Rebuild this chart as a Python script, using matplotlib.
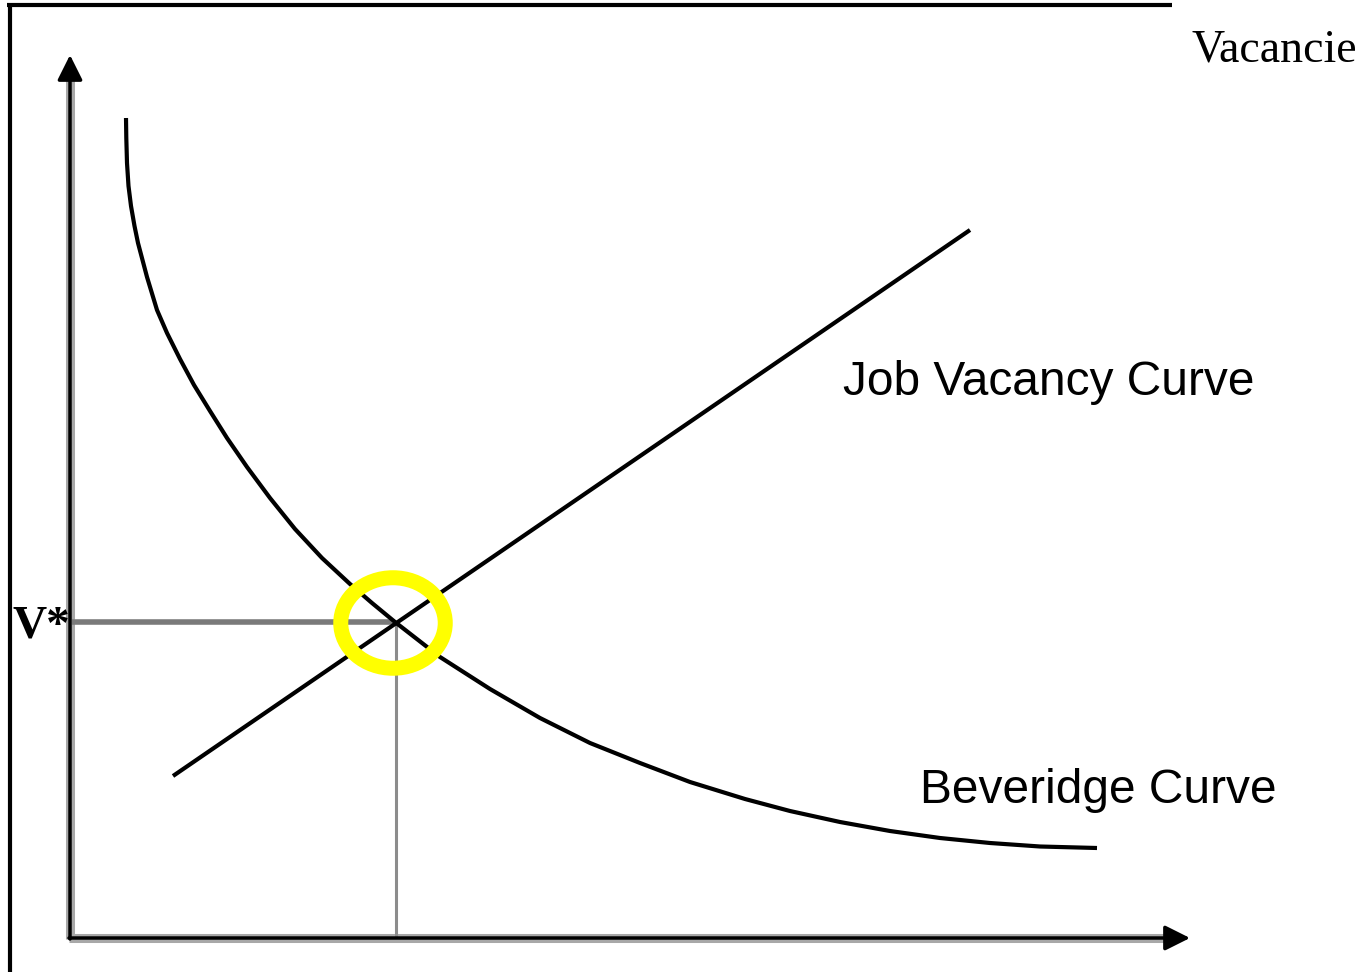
import numpy as np
import matplotlib
matplotlib.use('Agg')
import matplotlib.pyplot as plt
from matplotlib.patches import Ellipse

# Beveridge curve (origin at the corner of the axes)
bev_u = [56, 56.3, 57, 58.5, 61, 64.5, 68, 77, 87, 97, 110, 124, 140, 157, 177, 200,
         225, 252, 280, 302, 325, 370, 420, 470, 520, 570, 620, 675, 720, 770,
         820, 870, 920, 970, 1027]
bev_v = [820, 800, 775, 752, 732, 712, 695, 661, 628, 605, 579, 553, 527, 500, 471, 440,
         409, 380, 354, 335, 316, 281, 249, 220, 195, 175, 156, 139, 127, 116,
         107, 100, 95, 91.5, 90]

# job vacancy curve (straight line)
job_u = [103, 900]
job_v = [162, 708]

# equilibrium
u_star = 325
v_star = 316

# ends of the axes
x_axis_end = 1120
y_axis_end = 883

fig = plt.figure(figsize=(13.63, 9.72), dpi=100)
ax = fig.add_axes([0, 0, 1, 1])
ax.set_xlim(-70, 1293)
ax.set_ylim(-34, 938)
ax.axis('off')

# outer frame (top and left only)
ax.plot([-63, 1102], [932.5, 932.5], color='black', lw=3, solid_capstyle='butt')
ax.plot([-60.5, -60.5], [934.5, -34], color='black', lw=3, solid_capstyle='butt')

# axes with a soft gray edge
ax.plot([0, 0], [-1, y_axis_end - 22], color='#a8a8a8', lw=6.5, solid_capstyle='butt')
ax.plot([-1, x_axis_end - 22], [0, 0], color='#a8a8a8', lw=6.5, solid_capstyle='butt')
arrow = dict(arrowstyle='-|>,head_length=0.9,head_width=0.45', color='black',
             lw=2.5, mutation_scale=17, shrinkA=0, shrinkB=0)
ax.annotate('', xy=(0, y_axis_end), xytext=(0, -1), arrowprops=arrow)
ax.annotate('', xy=(x_axis_end, 0), xytext=(-1, 0), arrowprops=arrow)

# guides to the equilibrium
ax.plot([2, u_star], [v_star, v_star], color='#7a7a7a', lw=4, solid_capstyle='butt')
ax.plot([u_star + 1, u_star + 1], [v_star, 0], color='#8c8c8c', lw=2.2, solid_capstyle='butt')

# curves
ax.plot(bev_u, bev_v, color='black', lw=3, solid_capstyle='butt', solid_joinstyle='round')
ax.plot(job_u, job_v, color='black', lw=3, solid_capstyle='butt')

# yellow ring around the crossing
ring = Ellipse((323, 315), 104.5, 90.5, fill=False, edgecolor='#ffff00', lw=10.8, zorder=5)
ax.add_patch(ring)

# labels
ax.text(773, 543, 'Job Vacancy Curve', fontsize=34.5, family='Liberation Sans', va='baseline')
ax.text(850, 135, 'Beveridge Curve', fontsize=34.5, family='Liberation Sans', va='baseline')
ax.text(1122, 876, 'Vacancie', fontsize=33, family='Liberation Serif', va='baseline')
ax.text(-58, 301, 'V*', fontsize=34, family='Liberation Serif', weight='bold', va='baseline')

plt.savefig('out.png', dpi=100)
